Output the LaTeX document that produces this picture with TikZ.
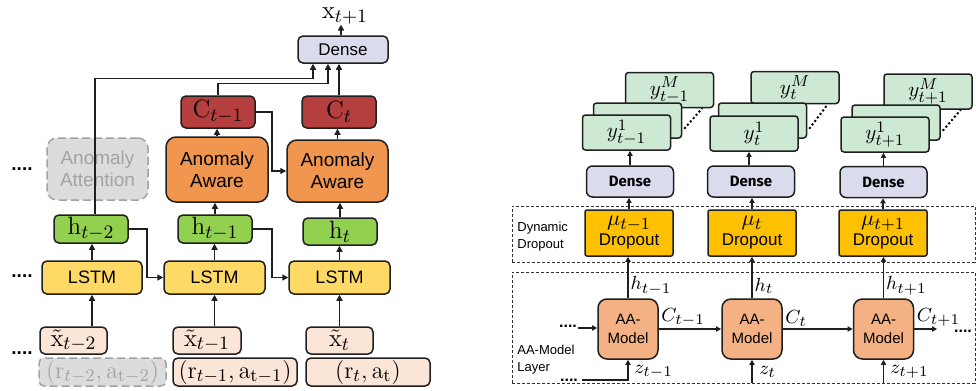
\RequirePackage{fix-cm}
\documentclass[tikz,border=0pt]{standalone}
\usepackage[no-math]{fontspec}
\setmainfont{Liberation Sans}
\newfontfamily\fira{Fira Sans}
\usetikzlibrary{arrows.meta,calc}
\DeclareMathSizes{12.5}{12.5}{9.5}{7.5}
\DeclareMathSizes{12}{12}{9}{7}
\DeclareMathSizes{13}{13}{10}{8}
\DeclareMathSizes{10.5}{10.5}{8}{6}
\DeclareMathSizes{11}{11}{8.5}{6.5}
\DeclareMathSizes{9.5}{9.5}{7.5}{6}
\definecolor{densec}{HTML}{DADCEE}
\definecolor{credc}{HTML}{B53F3E}
\definecolor{aalc}{HTML}{F0964F}
\definecolor{hgc}{HTML}{92D050}
\definecolor{lstmc}{HTML}{FFD966}
\definecolor{xinc}{HTML}{FBE5D6}
\definecolor{grayfill}{HTML}{DCDCDC}
\definecolor{grayline}{HTML}{A3A3A3}
\definecolor{ygc}{HTML}{CDE8D3}
\definecolor{dropc}{HTML}{FFC000}
\definecolor{aarc}{HTML}{F4B183}
\definecolor{edgec}{HTML}{1F1F1F}
\begin{document}
\begin{tikzpicture}[x=0.5pt,y=-0.5pt,
  bx/.style={draw=edgec, line width=0.75pt, rounded corners=2.5pt, inner sep=0pt, align=center},
  graybox/.style={bx, draw=grayline, fill=grayfill, dashed, dash pattern=on 4pt off 2pt, text=grayline},
  arr/.style={-{Triangle[length=3pt,width=3pt]}, line width=0.75pt, draw=edgec},
  rarr/.style={-{Triangle[length=2.6pt,width=2.6pt]}, line width=0.7pt, draw=edgec},
  lmath/.style={font=\fontsize{12.5}{13}\selectfont},
  rmath/.style={font=\fontsize{12}{13}\selectfont},
  dotsn/.style={font=\bfseries\fontsize{9.5}{10}\selectfont, inner sep=0pt},
  ybox/.style={bx, fill=ygc, rounded corners=1.5pt, minimum width=44pt, minimum height=17.5pt, font=\fontsize{10.5}{11}\selectfont},
  rdense/.style={bx, fill=densec, rounded corners=3pt, minimum width=43.5pt, minimum height=15.5pt, font=\fira\bfseries\fontsize{7.5}{9}\selectfont},
  dropbox/.style={bx, fill=dropc, rounded corners=1pt, minimum width=44pt, minimum height=23pt, font=\fontsize{8.5}{10}\selectfont},
  aabox/.style={bx, fill=aarc, rounded corners=4.5pt, minimum width=30pt, minimum height=30pt, font=\fontsize{7.5}{9.5}\selectfont},
  region/.style={draw=black!80, line width=0.5pt, dash pattern=on 1.5pt off 1pt, inner sep=0pt},
  rlab/.style={font=\fontsize{9.5}{10}\selectfont, inner sep=1pt},
  sidelab/.style={font=\fontsize{6.5}{8.5}\selectfont, align=left, anchor=west, inner sep=0pt}
]
\useasboundingbox (0,0) rectangle (976,391);

% ================= LEFT =================
\node[bx, fill=densec, minimum width=45pt, minimum height=13.5pt, font=\fontsize{8.5}{9}\selectfont] (dense) at (343,49.5) {Dense};
\node[font=\fontsize{12.5}{13}\selectfont, inner sep=0pt] (xout) at (345,16) {$\mathrm{x}_{t+1}$};

\node[bx, fill=credc, minimum width=37pt, minimum height=16pt, lmath] (c1) at (218,112) {$\mathrm{C}_{t-1}$};
\node[bx, fill=credc, minimum width=37pt, minimum height=16pt, lmath] (c2) at (339,112) {$\mathrm{C}_{t}$};

\node[graybox, minimum width=50.5pt, minimum height=31pt, rounded corners=5pt, font=\fontsize{9.5}{11}\selectfont] (att) at (97.5,169) {Anomaly\\Attention};
\node[bx, fill=aalc, minimum width=51pt, minimum height=32.5pt, rounded corners=5pt, font=\fontsize{9.5}{11}\selectfont] (aa1) at (217,169.5) {Anomaly\\Aware};
\node[bx, fill=aalc, minimum width=50.5pt, minimum height=31pt, rounded corners=5pt, font=\fontsize{9.5}{11}\selectfont] (aa2) at (337.5,171) {Anomaly\\Aware};

\node[bx, fill=hgc, minimum width=37pt, minimum height=14pt, lmath] (h1) at (91,229) {$\mathrm{h}_{t-2}$};
\node[bx, fill=hgc, minimum width=37pt, minimum height=14pt, lmath] (h2) at (215,229) {$\mathrm{h}_{t-1}$};
\node[bx, fill=hgc, minimum width=37pt, minimum height=13.5pt, lmath] (h3) at (340,231.5) {$\mathrm{h}_{t}$};

\node[bx, fill=lstmc, minimum width=50pt, minimum height=16.5pt, font=\fontsize{9}{10}\selectfont] (l1) at (92,277.5) {LSTM};
\node[bx, fill=lstmc, minimum width=50.5pt, minimum height=16.5pt, font=\fontsize{9}{10}\selectfont] (l2) at (214.5,277.5) {LSTM};
\node[bx, fill=lstmc, minimum width=50.5pt, minimum height=16.5pt, font=\fontsize{9}{10}\selectfont] (l3) at (339.5,277.5) {LSTM};

\node[bx, fill=xinc, minimum width=33.5pt, minimum height=13.5pt, lmath] (x1) at (73.5,340.5) {$\tilde{\mathrm{x}}_{t-2}$};
\node[bx, fill=xinc, minimum width=34pt, minimum height=13.5pt, lmath] (x2) at (207,340.5) {$\tilde{\mathrm{x}}_{t-1}$};
\node[bx, fill=xinc, minimum width=33.5pt, minimum height=13.5pt, lmath] (x3) at (339.5,340.5) {$\tilde{\mathrm{x}}_{t}$};

\node[graybox, minimum width=63.5pt, minimum height=14pt, rmath] (r1) at (102.5,372) {$(\mathrm{r}_{t-2},\mathrm{a}_{\mathrm{t-2}})$};
\node[bx, fill=xinc, minimum width=62pt, minimum height=14pt, rmath] (r2) at (235,372) {$(\mathrm{r}_{t-1},\mathrm{a}_{\mathrm{t-1}})$};
\node[bx, fill=xinc, minimum width=62pt, minimum height=14pt, rmath] (r3) at (368,372) {$(\mathrm{r}_{t},\mathrm{a}_{\mathrm{t}})$};

\node[dotsn] (ld1) at (22,169) {....};
\node[dotsn] (ld2) at (22,276) {....};
\node[dotsn] (ld3) at (22,353) {....};

% left connectors
\draw[arr] (l1.south |- x1.north) -- (l1.south);
\draw[arr] (l2.south |- x2.north) -- (l2.south);
\draw[arr] (l3.south |- x3.north) -- (l3.south);
\draw[arr] (l1.north) -- (l1.north |- h1.south);
\draw[arr] (l2.north) -- (l2.north |- h2.south);
\draw[arr] (l3.north) -- (l3.north |- h3.south);
\draw[arr] (h2.north) -- (h2.north |- aa1.south);
\draw[arr] (h3.north) -- (h3.north |- aa2.south);
\draw[arr] (aa1.north) -- (aa1.north |- c1.south);
\draw[arr] (aa2.north) -- (aa2.north |- c2.south);
\draw[arr] (h1.east) -- ++(18,0) |- (l2.west);
\draw[arr] (h2.east) -- ++(19,0) |- (l3.west);
\draw[arr] (c1.east) -- ++(16,0) |- (aa2.west);
\draw[arr] (c2.north) -- (c2.north |- dense.south);
\draw[arr] (c1.north) -- ++(0,-12) -| ([xshift=-7.5pt]dense.south);
\draw[arr] ([xshift=2pt]h1.north) -- ++(0,-136) -| ([xshift=-15pt]dense.south);
\draw[arr] ([xshift=-1pt]dense.north) -- ([xshift=-1pt]dense.north |- xout.south);

% ================= RIGHT =================
\node[region, minimum width=231.5pt, minimum height=28pt] (ddreg) at (743.5,234) {};
\node[region, minimum width=231.5pt, minimum height=55.5pt] (aareg) at (743.5,327.5) {};
\node[sidelab] (ddlab) at (517,236.5) {Dynamic\\Dropout};
\node[sidelab] (aalab) at (517,360) {AA-Model\\Layer};

% column 1
\node[ybox] (ym1) at (669.5,90) {$y^{M}_{t-1}$};
\node[ybox] (yk1) at (637.5,120.5) {};
\node[ybox] (y11) at (626.5,132.5) {$y^{1}_{t-1}$};
\node[rdense] (dn1) at (630,181.5) {Dense};
\node[dropbox] (dp1) at (629,233) {{\fontsize{11}{10}\selectfont$\mu_{t-1}$}\\Dropout};
\node[aabox] (am1) at (628,329) {AA-\\Model};
% column 2
\node[ybox, minimum height=16pt] (ym2) at (795,87.5) {$y^{M}_{t}$};
\node[ybox] (yk2) at (762.5,120.5) {};
\node[ybox] (y12) at (754,133.5) {$y^{1}_{t}$};
\node[rdense] (dn2) at (751,181.5) {Dense};
\node[dropbox] (dp2) at (752,233) {{\fontsize{11}{10}\selectfont$\mu_{t}$}\\Dropout};
\node[aabox] (am2) at (752,329) {AA-\\Model};
% column 3
\node[ybox] (ym3) at (928,91.5) {$y^{M}_{t+1}$};
\node[ybox] (yk3) at (896,122.5) {};
\node[ybox] (y13) at (885,134.5) {$y^{1}_{t+1}$};
\node[rdense] (dn3) at (883.5,182) {Dense};
\node[dropbox] (dp3) at (883,233) {{\fontsize{11}{10}\selectfont$\mu_{t+1}$}\\Dropout};
\node[aabox] (am3) at (883.5,329) {AA-\\Model};

% dotted stack hints
\draw[line width=1pt, dash pattern=on 1pt off 1.2pt] ($(yk1.south east)+(2,-10)$) -- ($(ym1.south east)+(-12,0)$);
\draw[line width=1pt, dash pattern=on 1pt off 1.2pt] ($(yk2.south east)+(2,-10)$) -- ($(ym2.south east)+(-12,0)$);
\draw[line width=1pt, dash pattern=on 1pt off 1.2pt] ($(yk3.south east)+(2,-10)$) -- ($(ym3.south east)+(-12,0)$);

% vertical connectors
\draw[rarr] (dn1.north) -- (dn1.north |- y11.south);
\draw[rarr] ([xshift=-1pt]dn2.north) -- ([xshift=-1pt]dn2.north |- y12.south);
\draw[rarr] (dn3.north) -- (dn3.north |- y13.south);
\draw[rarr] (dp1.north) -- (dp1.north |- dn1.south);
\draw[rarr] (dp2.north) -- (dp2.north |- dn2.south);
\draw[rarr] (dp3.north) -- (dp3.north |- dn3.south);
\draw[rarr] (am1.north) -- (am1.north |- dp1.south) node[rlab, pos=0.3, anchor=west] {$h_{t-1}$};
\draw[rarr] (am2.north) -- (am2.north |- dp2.south) node[rlab, pos=0.3, anchor=west] {$h_{t}$};
\draw[rarr] (am3.north) -- (am3.north |- dp3.south) node[rlab, pos=0.3, anchor=west] {$h_{t+1}$};

% horizontal connectors
\node[dotsn, font=\bfseries\fontsize{8}{9}\selectfont] (rd1) at (568,326) {....};
\node[dotsn, font=\bfseries\fontsize{8}{9}\selectfont] (rd2) at (569,380) {....};
\node[dotsn, font=\bfseries\fontsize{8}{9}\selectfont] (rd3) at (963,331) {....};
\draw[rarr] (rd1.east |- am1.west) ++(1,-1) -- ([yshift=0.5pt]am1.west);
\draw[rarr] (am1.east) -- (am2.west) node[rlab, pos=0, anchor=south west] {$C_{t-1}$};
\draw[rarr] (am2.east) -- (am3.west) node[rlab, pos=0, anchor=south west] {$C_{t}$};
\draw[rarr] (am3.east) -- ++(23,0) coordinate (cend) node[rlab, pos=0, anchor=south west] {$C_{t+1}$};

% z inputs
\draw[rarr] ([xshift=2pt]rd2.east) -| (am1.south);
\coordinate (z2in) at (752,383);
\coordinate (z3in) at (883.5,383);
\draw[rarr] (z2in) -- (am2.south);
\draw[rarr] (z3in) -- (am3.south);
\node[rlab, anchor=west] (zl1) at (632,372) {$z_{t-1}$};
\node[rlab, anchor=west] (zl2) at (757,372) {$z_{t}$};
\node[rlab, anchor=west] (zl3) at (888,372) {$z_{t+1}$};
\end{tikzpicture}
\end{document}
